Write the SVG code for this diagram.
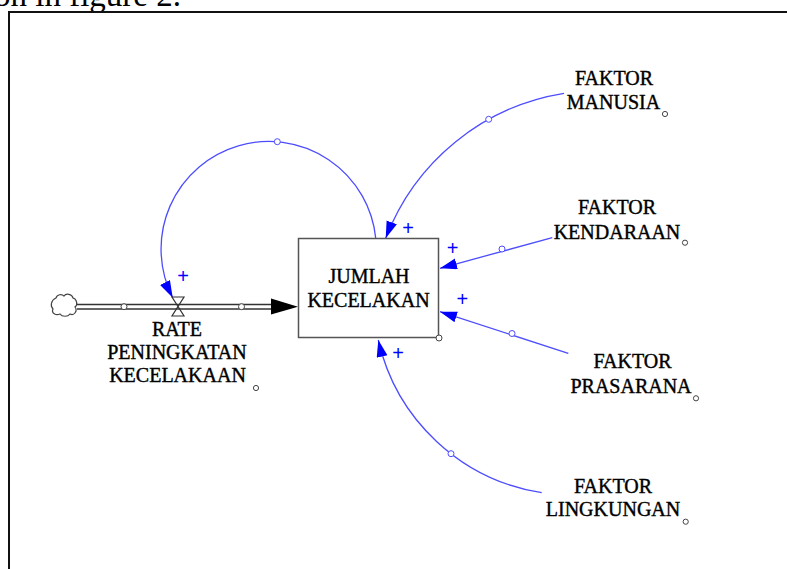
<svg xmlns="http://www.w3.org/2000/svg" width="787" height="569" viewBox="0 0 787 569">
<style>
text{font-family:"Liberation Serif","Times New Roman",serif;}
.lbl{font-size:20px;fill:#000;text-anchor:middle;stroke:#000;stroke-width:0.4;}
.plus{font-family:"Liberation Sans",Arial,sans-serif;font-size:20px;fill:#0000ff;text-anchor:middle;}
.link{fill:none;stroke:#4d4dff;stroke-width:1.3;}
.dot{fill:#fff;stroke:#444;stroke-width:1;}
.ldot{fill:#fff;stroke:#4d4dff;stroke-width:1;}
.pipe{stroke:#333;stroke-width:1.3;fill:none;}
</style>
<defs>
<marker id="ah" markerUnits="userSpaceOnUse" markerWidth="18" markerHeight="12" refX="17" refY="5.5" orient="auto">
<path d="M0,0 L17,5.5 L0,11 Z" fill="#0000ff"/>
</marker>
</defs>
<rect width="787" height="569" fill="#fff"/>
<text x="-6" y="6" style="font-size:33px;fill:#000;">on in figure 2.</text>
<path d="M9,569 V12 H787" fill="none" stroke="#111" stroke-width="2"/>

<g id="connectors">
<path class="link" d="M375.7,238 A107.6,107.6 0 1 0 172.7,297.7" marker-end="url(#ah)"/>
<circle class="ldot" cx="277.3" cy="141.7" r="3"/>
<path class="link" d="M564,93.3 A229.7,229.7 0 0 0 385.7,238.3" marker-end="url(#ah)"/>
<circle class="ldot" cx="488.7" cy="119.3" r="3"/>
<path class="link" d="M552.3,237.7 L440,268.3" marker-end="url(#ah)"/>
<circle class="ldot" cx="502" cy="249" r="3"/>
<path class="link" d="M568.3,353.3 L440,311.7" marker-end="url(#ah)"/>
<circle class="ldot" cx="512" cy="333.5" r="3"/>
<path class="link" d="M541.7,492.7 A199.3,199.3 0 0 1 378.3,340" marker-end="url(#ah)"/>
<circle class="ldot" cx="451" cy="453.7" r="3"/>
<text class="plus" x="183" y="283">+</text>
<text class="plus" x="408" y="234.5">+</text>
<text class="plus" x="452.7" y="254.5">+</text>
<text class="plus" x="462.3" y="306">+</text>
<text class="plus" x="398" y="359.5">+</text>
<!-- flow pipe -->
<line class="pipe" x1="77" y1="304.5" x2="273" y2="304.5"/>
<line class="pipe" x1="77" y1="309" x2="273" y2="309"/>
<circle class="dot" cx="124" cy="306.7" r="3"/>
<circle class="dot" cx="241.5" cy="306.7" r="3"/>
<polygon points="271,298.5 298,306.7 271,314.5" fill="#000"/>
</g>

<g id="cloud">
<path d="M56,298 C57,294 62,294 64,296 C66,293 72,294 73,298 C77,299 78,305 75,307 C78,311 74,316 70,314 C68,317 62,317 60,314 C56,316 51,313 53,309 C50,306 51,300 56,298 Z" fill="#fff" stroke="#444" stroke-width="1.2"/>
</g>

<g id="rate">
<path d="M172,297 H184 L172,316 H184 Z" fill="none" stroke="#333" stroke-width="1.2"/>
<text class="lbl" x="177" y="336">RATE</text>
<text class="lbl" x="177" y="359">PENINGKATAN</text>
<text class="lbl" x="177.5" y="382">KECELAKAAN</text>
<circle class="dot" cx="256" cy="388" r="2.6"/>
</g>

<g id="jumlah">
<rect x="298.5" y="238.5" width="140" height="99" fill="#fff" stroke="#555" stroke-width="1.5"/>
<text class="lbl" x="369" y="283">JUMLAH</text>
<text class="lbl" x="368.5" y="307">KECELAKAN</text>
<circle class="dot" cx="439" cy="338" r="3"/>
</g>

<g id="manusia">
<text class="lbl" x="614" y="85">FAKTOR</text>
<text class="lbl" x="613.5" y="109">MANUSIA</text>
<circle class="dot" cx="665" cy="114" r="2.6"/>
</g>

<g id="kendaraan">
<text class="lbl" x="617" y="214">FAKTOR</text>
<text class="lbl" x="617" y="239">KENDARAAN</text>
<circle class="dot" cx="685" cy="242.7" r="2.6"/>
</g>

<g id="prasarana">
<text class="lbl" x="632.5" y="368">FAKTOR</text>
<text class="lbl" x="631" y="392.5">PRASARANA</text>
<circle class="dot" cx="696" cy="398.3" r="2.6"/>
</g>

<g id="lingkungan">
<text class="lbl" x="613" y="492.5">FAKTOR</text>
<text class="lbl" x="613" y="516">LINGKUNGAN</text>
<circle class="dot" cx="685.7" cy="521.7" r="2.6"/>
</g>
</svg>
